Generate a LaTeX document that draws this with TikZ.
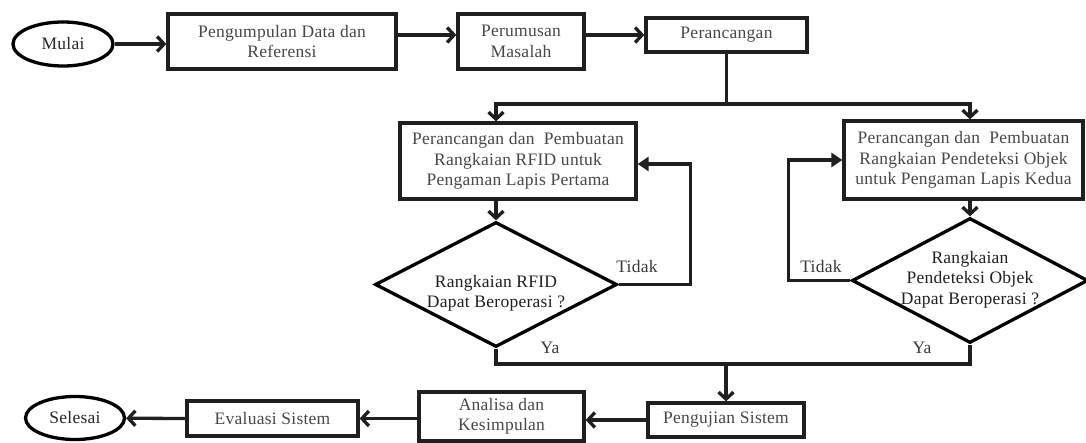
\documentclass[tikz,border=0pt]{standalone}
\usepackage{fontspec}
\setmainfont{Liberation Serif}[LetterSpace=1.5]
\usetikzlibrary{arrows.meta,shapes.geometric,calc}
\begin{document}
\begin{tikzpicture}[x=1pt,y=-1pt,
  font=\fontsize{17.5}{20.5}\selectfont,
  proc/.style={draw=black!88, line width=3.3pt, rectangle, inner sep=0pt, align=center, text=black!72},
  term/.style={draw=black, line width=3.3pt, ellipse, inner sep=0pt, text=black!85},
  dia/.style={draw=black, line width=3.3pt, diamond, inner sep=0pt, text=black!88},
  con/.style={line width=3.3pt, draw=black!88},
  arr/.style={con, -{Straight Barb[length=7pt,width=15pt]}},
  tri/.style={con, -{Triangle[length=11pt,width=14pt]}},
  lbl/.style={text=black!78, inner sep=0pt}]
\useasboundingbox (0,0) rectangle (1086,443);
% top row
\node[term, minimum width=100pt, minimum height=44pt] (mulai) at (63,44) {Mulai};
\node[proc, minimum width=228pt, minimum height=55pt] (b1) at (282,41.5) {Pengumpulan Data dan\\Referensi};
\node[proc, minimum width=126pt, minimum height=55pt] (b2) at (521,41.5) {Perumusan\\Masalah};
\node[proc, minimum width=161pt, minimum height=34pt] (b3) at (726.5,35) {Perancangan};
% middle
\node[proc, minimum width=236pt, minimum height=76pt] (b4) at (518,161) {Perancangan dan\ \ Pembuatan\\Rangkaian RFID untuk\\Pengaman Lapis Pertama};
\node[proc, minimum width=239pt, minimum height=78pt] (b5) at (963.5,160) {Perancangan dan\ \ Pembuatan\\Rangkaian Pendeteksi Objek\\untuk Pengaman Lapis Kedua};
\node[dia, minimum width=242pt, minimum height=125pt] (d1) at (496,284.5) {\makebox[0pt]{\smash{\raisebox{-13pt}{\begin{tabular}{@{}c@{}}Rangkaian RFID\\Dapat Beroperasi ?\end{tabular}}}}};
\node[dia, minimum width=236pt, minimum height=125pt] (d2) at (970,280.5) {\makebox[0pt]{\smash{\raisebox{-3.5pt}{\begin{tabular}{@{}c@{}}Rangkaian\\Pendeteksi Objek\\Dapat Beroperasi ?\end{tabular}}}}};
\node[lbl] (t1) at (637,267) {Tidak};
\node[lbl] (t2) at (821,267) {Tidak};
\node[lbl] (y1) at (550,348) {Ya};
\node[lbl] (y2) at (922,348) {Ya};
% bottom row
\node[proc, minimum width=156pt, minimum height=34pt] (b6) at (726,420) {Pengujian Sistem};
\node[proc, minimum width=165pt, minimum height=49pt] (b7) at (501.5,416.5) {Analisa dan\\Kesimpulan};
\node[proc, minimum width=171pt, minimum height=35pt] (b8) at (272.5,418.5) {Evaluasi Sistem};
\node[term, minimum width=99pt, minimum height=43pt] (sel) at (75,418) {Selesai};
% connectors
\draw[arr] (mulai.east) -- (mulai.east -| b1.west);
\draw[arr] (b1.east |- b3.center) -- (b2.west |- b3.center);
\draw[arr] (b2.east |- b3.center) -- (b3.west);
\coordinate (sp) at (726.5,104);
\draw[con] (b3.south) -- (sp);
\draw[arr] (sp) -| (d1.north |- b4.north);
\draw[arr] (sp) -| (d2.north |- b5.north);
\draw[arr] (d1.north |- b4.south) -- (d1.north);
\draw[arr] (d2.north |- b5.south) -- (d2.north);
\draw[tri] (d1.east) -- ++(72,0) |- ([yshift=-3pt]b4.east);
\draw[tri] (d2.west) -- ++(-62,0) |- (b5.west);
\coordinate (ym) at (726,364);
\draw[con] (d1.south) |- (ym) -| (d2.south);
\draw[arr] (ym) -- (b6.north);
\draw[arr] (b6.west) -- (b6.west -| b7.east);
\draw[arr] (b7.west |- b8.east) -- (b8.east);
\draw[arr] (b8.west) -- (sel);
\end{tikzpicture}
\end{document}
